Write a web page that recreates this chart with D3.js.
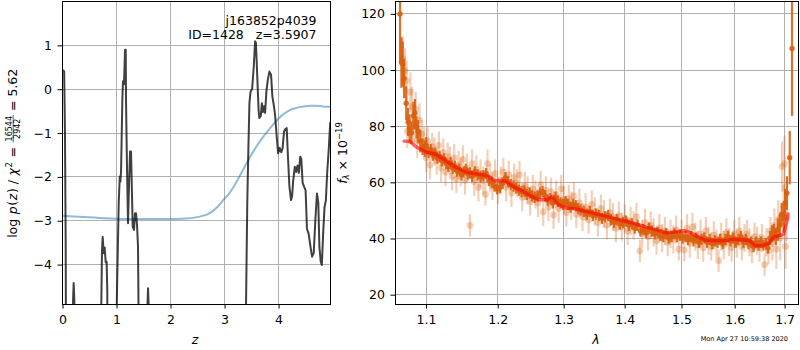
<!DOCTYPE html>
<html><head><meta charset="utf-8">
<script src="https://cdn.jsdelivr.net/npm/d3@7"></script>
<style>
body{margin:0;background:#fff;}
text{font-family:"DejaVu Sans",sans-serif;fill:#000;}
</style></head><body>
<svg id="c" width="800" height="350" xmlns="http://www.w3.org/2000/svg"></svg>
<script>
// ---------- DATA ----------
// left panel: log p(z) (black) and scaled chi2 (blue)
const pzZ = [0.000,0.020,0.040,0.055,0.068,0.080,0.190,0.205,0.216,0.228,0.240,0.700,0.728,0.740,0.753,0.772,0.790,0.800,0.809,0.827,0.838,0.850,0.980,1.020,1.050,1.070,1.080,1.093,1.117,1.130,1.148,1.167,1.180,1.185,1.204,1.222,1.240,1.260,1.278,1.290,1.309,1.333,1.352,1.370,1.389,1.407,1.438,1.560,1.580,1.593,1.606,1.620,3.390,3.407,3.430,3.450,3.470,3.490,3.520,3.550,3.575,3.590,3.615,3.640,3.655,3.680,3.700,3.720,3.740,3.760,3.785,3.810,3.840,3.870,3.895,3.920,3.945,3.970,4.000,4.030,4.060,4.085,4.110,4.135,4.160,4.180,4.210,4.240,4.260,4.280,4.310,4.335,4.360,4.385,4.410,4.430,4.455,4.480,4.510,4.535,4.565,4.600,4.630,4.660,4.690,4.720,4.745,4.765,4.790,4.810,4.835,4.860,4.885,4.910,4.940,4.965,4.980];
const pzLogp = [0.41,0.42,0.40,-1.00,-3.50,-8.00,-8.00,-4.80,-4.43,-4.80,-8.00,-8.00,-4.90,-3.70,-3.38,-3.75,-3.62,-3.80,-3.96,-3.95,-4.60,-8.00,-8.00,-4.50,-2.60,-2.00,-2.12,-1.90,-0.26,0.17,0.10,0.89,0.89,-0.26,-1.85,-3.07,-2.24,-1.43,-1.43,-2.10,-3.15,-3.22,-2.84,-2.84,-3.10,-3.60,-8.00,-8.00,-5.00,-4.55,-5.00,-8.00,-8.00,-4.90,-2.60,-1.40,-0.33,-0.07,0.00,0.50,1.08,1.05,0.28,-0.50,-0.67,-0.62,-0.33,-0.53,-0.40,-0.55,-0.05,0.20,0.39,0.32,-0.18,-0.37,-0.60,-1.01,-1.47,-1.35,-1.45,-1.35,-0.98,-0.92,-0.90,-1.47,-2.23,-2.54,-2.45,-2.10,-1.78,-1.90,-1.75,-1.92,-1.55,-1.60,-2.15,-2.23,-2.32,-3.20,-3.30,-3.60,-3.83,-3.75,-3.00,-2.39,-2.60,-3.60,-3.95,-4.02,-3.30,-2.70,-2.55,-1.90,-1.35,-0.78,-0.75];
const chiZ = [0.0,0.3,0.6,0.9,1.2,1.5,1.8,2.1,2.3,2.45,2.6,2.7,2.8,2.9,3.0,3.1,3.2,3.3,3.4,3.5,3.6,3.7,3.8,3.9,4.0,4.1,4.2,4.3,4.4,4.5,4.6,4.7,4.8,4.9,4.98];
const chiVal = [-2.90,-2.92,-2.94,-2.96,-2.97,-2.97,-2.97,-2.97,-2.96,-2.94,-2.90,-2.86,-2.78,-2.67,-2.52,-2.38,-2.19,-1.97,-1.74,-1.52,-1.32,-1.14,-0.98,-0.83,-0.69,-0.58,-0.50,-0.45,-0.42,-0.40,-0.39,-0.39,-0.40,-0.41,-0.41];
const leftXTicks = [0,1,2,3,4];
const leftYTicks = [-4,-3,-2,-1,0,1];
const titleLines = ["j163852p4039","ID=1428\u00a0\u00a0\u00a0z=3.5907"];

// right panel: spectrum points [wavelength (micron), flux, error]
const strongPts = [
[1.0665,119.8,17],[1.0683,102.5,9],[1.0700,102.0,8],[1.0717,96.8,7],[1.0745,88.0,6],[1.0770,81.3,5],[1.0790,79.0,5],[1.0815,77.5,4],[1.0840,83.5,5],[1.0860,84.5,5],[1.0880,79.5,4],[1.0900,78.0,4],[1.0930,74.5,4],[1.0960,72.5,3],[1.0990,71.8,3],[1.1010,73.0,3],[1.1040,70.5,2],[1.1070,71.5,2],[1.1100,69.5,2],[1.1130,70.2,2],[1.1160,68.5,2],[1.1190,69.0,2],[1.1220,67.5,2],[1.1250,68.2,2],[1.1280,66.5,2],[1.1310,65.5,2],[1.1340,66.8,2],[1.1370,64.8,2],[1.1400,65.5,2],[1.1430,63.8,2],[1.1460,64.5,2],[1.1490,62.5,2],[1.1520,63.5,2],[1.1550,64.5,2],[1.1580,62.8,2],[1.1610,63.2,2],[1.1640,62.0,2],[1.1680,63.5,2],[1.1720,62.5,2],[1.1760,61.8,2],[1.1800,62.2,2],[1.1840,63.0,2],[1.1880,60.5,2],[1.1920,60.0,2],[1.1960,58.5,2],[1.2000,57.5,2],[1.2040,58.0,2],[1.2080,59.5,2],[1.2120,61.5,2],[1.2160,60.0,2],[1.2200,59.0,2],[1.2240,58.5,2],[1.2280,57.8,2],[1.2320,57.0,2],[1.2360,56.5,2],[1.2400,56.8,2],[1.2440,55.5,2],[1.2480,56.0,2],[1.2520,55.0,2],[1.2560,54.5,2],[1.2600,55.0,2],[1.2640,56.0,2],[1.2680,56.5,2],[1.2720,55.0,2],[1.2760,53.5,2],[1.2800,54.0,2],[1.2840,52.5,2],[1.2880,54.5,2],[1.2920,53.0,2],[1.2960,52.5,2],[1.3000,52.0,2],[1.3040,53.0,2],[1.3080,52.0,2],[1.3120,51.0,2],[1.3160,52.0,2],[1.3200,51.5,2],[1.3240,50.5,2],[1.3280,50.0,2],[1.3330,49.5,2],[1.3380,48.5,2],[1.3430,49.5,2],[1.3480,48.0,2],[1.3530,48.5,2],[1.3580,48.0,2],[1.3630,47.0,2],[1.3680,47.5,2],[1.3730,48.0,2],[1.3780,46.5,2],[1.3830,45.5,2],[1.3880,46.5,2],[1.3930,45.0,2],[1.3980,45.5,2],[1.4030,46.0,2],[1.4080,44.5,2],[1.4130,45.0,2],[1.4180,43.5,2],[1.4230,44.5,2],[1.4280,42.5,2],[1.4330,43.0,2],[1.4380,42.0,2],[1.4430,43.5,2],[1.4480,42.5,2],[1.4530,41.5,2],[1.4580,42.0,2],[1.4630,41.0,2],[1.4680,40.5,2],[1.4730,41.5,2],[1.4780,40.0,2],[1.4830,40.5,2],[1.4880,41.5,2],[1.4930,40.5,2],[1.4980,41.0,2],[1.5030,40.0,2],[1.5080,40.5,2],[1.5130,39.5,2],[1.5180,40.5,2],[1.5230,39.0,2],[1.5280,40.0,2],[1.5330,38.5,2],[1.5380,39.5,2],[1.5430,40.0,2],[1.5480,38.5,2],[1.5530,39.5,2],[1.5580,38.0,2],[1.5630,39.0,2],[1.5680,38.5,2],[1.5730,39.5,2],[1.5780,38.0,2],[1.5830,39.5,2],[1.5880,40.5,2],[1.5930,39.0,2],[1.5980,40.0,2],[1.6030,38.5,2],[1.6080,39.5,2],[1.6130,40.5,2],[1.6180,38.5,2],[1.6230,39.5,2],[1.6280,38.0,2],[1.6330,38.5,2],[1.6380,37.0,2],[1.6430,38.5,2],[1.6480,37.5,2],[1.6530,38.5,2],[1.6580,37.5,2],[1.6630,38.0,2],[1.6670,36.5,2],[1.6710,40.0,2.5],[1.6750,41.5,3],[1.6790,42.0,3],[1.6830,40.5,3],[1.6870,43.0,4],[1.6910,44.5,4],[1.6950,48.5,4],[1.6990,47.0,5],[1.7020,52.5,5],[1.7059,56.0,6],[1.7116,68.6,9.5],[1.7164,107.5,24]];
const faintPts = [
[1.0700,103.8,8],[1.0730,99.6,8],[1.0750,96.0,7],[1.0760,78.0,6],[1.0800,92.0,7],[1.0820,86.8,7],[1.0850,80.0,6],[1.0870,86.0,6],[1.0890,74.6,6],[1.0920,82.0,6],[1.0950,77.0,5],[1.0980,74.5,5],[1.1010,68.5,5],[1.1030,74.5,5],[1.1060,66.0,5],[1.1090,72.5,5],[1.1120,70.8,5],[1.1150,67.5,5],[1.1180,73.0,5],[1.1210,65.0,5],[1.1240,70.5,5],[1.1270,63.5,5],[1.1300,69.0,5],[1.1330,67.5,5],[1.1360,62.0,5],[1.1390,68.5,5],[1.1420,61.0,5],[1.1450,66.0,5],[1.1480,63.5,5],[1.1510,68.0,5],[1.1540,60.5,5],[1.1570,65.0,5],[1.1610,44.5,4],[1.1640,66.5,5],[1.1670,60.0,5],[1.1700,64.5,5],[1.1730,58.0,5],[1.1760,63.0,5],[1.1800,60.5,5],[1.1830,55.5,4],[1.1860,66.5,5],[1.1900,61.5,5],[1.1930,58.5,5],[1.1970,63.0,5],[1.2010,57.0,5],[1.2050,60.5,5],[1.2090,63.5,5],[1.2130,58.0,5],[1.2170,62.5,5],[1.2210,56.0,5],[1.2250,61.5,5],[1.2290,59.5,5],[1.2330,62.5,5],[1.2370,54.5,5],[1.2410,58.5,5],[1.2450,57.0,5],[1.2490,53.0,5],[1.2530,57.5,5],[1.2570,55.5,5],[1.2610,52.5,5],[1.2650,59.0,5],[1.2690,49.3,5],[1.2730,57.0,5],[1.2770,51.0,5],[1.2810,56.5,5],[1.2850,48.2,5],[1.2890,55.5,5],[1.2930,50.5,5],[1.2970,57.5,5],[1.3010,53.5,5],[1.3050,49.0,5],[1.3090,54.0,5],[1.3130,51.5,5],[1.3170,55.0,5],[1.3210,48.5,5],[1.3260,52.5,5],[1.3310,47.5,5],[1.3360,51.0,5],[1.3410,46.5,5],[1.3460,52.0,5],[1.3510,49.5,5],[1.3560,45.5,5],[1.3610,50.5,5],[1.3660,48.5,5],[1.3710,44.5,5],[1.3760,49.0,5],[1.3810,47.5,5],[1.3860,43.5,5],[1.3910,48.0,5],[1.3960,44.0,5],[1.4010,47.0,5],[1.4060,42.5,5],[1.4110,46.0,5],[1.4160,44.5,5],[1.4210,47.5,5],[1.4270,35.4,4],[1.4310,41.5,5],[1.4360,45.5,5],[1.4410,40.5,5],[1.4460,44.5,5],[1.4510,42.0,5],[1.4560,39.0,5],[1.4610,43.5,5],[1.4660,40.0,5],[1.4710,42.5,5],[1.4760,38.5,5],[1.4810,41.5,5],[1.4860,39.5,5],[1.4910,43.0,5],[1.4960,36.0,4],[1.5010,41.5,5],[1.5060,35.7,4],[1.5110,43.5,5],[1.5160,38.0,5],[1.5210,44.0,5],[1.5260,40.5,5],[1.5310,37.5,5],[1.5360,41.5,5],[1.5410,36.5,5],[1.5460,42.5,5],[1.5510,39.0,5],[1.5560,37.0,5],[1.5610,41.0,5],[1.5660,38.0,5],[1.5700,31.9,4],[1.5750,40.5,5],[1.5800,37.5,5],[1.5850,42.0,5],[1.5900,38.5,5],[1.5950,36.5,5],[1.6000,41.5,5],[1.6050,38.0,5],[1.6100,42.5,5],[1.6150,37.0,5],[1.6200,40.0,5],[1.6250,41.5,5],[1.6300,38.5,5],[1.6350,36.0,5],[1.6400,40.5,5],[1.6450,39.0,5],[1.6500,36.5,5],[1.6550,40.0,5],[1.6600,30.5,4],[1.6640,38.5,5],[1.6680,35.5,5],[1.6720,42.5,5],[1.6760,38.0,6],[1.6800,44.5,6],[1.6840,36.0,7],[1.6880,46.5,7],[1.6920,40.0,8],[1.6960,65.5,9],[1.6990,51.0,8],[1.7010,66.5,10],[1.7030,37.0,8],[1.7050,47.0,8]];
const modelWave = [1.0717,1.079,1.088,1.1004,1.1138,1.127,1.141,1.155,1.169,1.183,1.197,1.212,1.221,1.236,1.249,1.262,1.275,1.283,1.291,1.304,1.320,1.336,1.353,1.369,1.386,1.404,1.421,1.439,1.457,1.475,1.494,1.506,1.519,1.531,1.544,1.563,1.582,1.598,1.615,1.631,1.641,1.655,1.668,1.679,1.689,1.699,1.706,1.708];
const modelFlux = [74.5,74.4,72.4,70.6,69.8,67.6,65.2,63.5,62.9,62.3,60.5,60.3,58.7,56.9,55.1,53.6,53.6,54.8,52.1,50.7,50.4,49.5,48.6,47.8,46.8,45.9,45.0,43.8,42.9,41.8,42.3,42.6,41.8,40.5,39.3,39.0,39.0,39.6,39.4,39.0,37.2,37.2,38.0,40.4,40.8,41.4,46.2,48.6];
const rightXTicks = [1.1,1.2,1.3,1.4,1.5,1.6,1.7];
const rightYTicks = [20,40,60,80,100,120];
const timestamp = "Mon Apr 27 10:59:38 2020";

// ---------- DRAW ----------
const svg = d3.select("#c");
svg.append("rect").attr("width",800).attr("height",350).attr("fill","#fff");
const FS = 12.5, GRID = "#b0b0b0";

function panel(x0,x1,y0,y1,xs,ys,xt,yt,id){
  const g = svg.append("g");
  g.selectAll(null).data(xt).join("line")
    .attr("x1",d=>Math.round(xs(d))+0.5).attr("x2",d=>Math.round(xs(d))+0.5)
    .attr("y1",y0).attr("y2",y1).attr("stroke",GRID).attr("stroke-width",1);
  g.selectAll(null).data(yt).join("line")
    .attr("y1",d=>Math.round(ys(d))+0.5).attr("y2",d=>Math.round(ys(d))+0.5)
    .attr("x1",x0).attr("x2",x1).attr("stroke",GRID).attr("stroke-width",1);
  svg.append("clipPath").attr("id",id).append("rect")
    .attr("x",x0).attr("y",y0).attr("width",x1-x0).attr("height",y1-y0);
  return g;
}
function axes(x0,x1,y0,y1,xs,ys,xt,yt,xfmt,yfmt){
  const ax = d3.axisBottom(xs).tickValues(xt).tickFormat(xfmt).tickSize(4.5).tickPadding(6.5);
  const ay = d3.axisLeft(ys).tickValues(yt).tickFormat(yfmt).tickSize(4.5).tickPadding(5.5);
  const gx = svg.append("g").attr("transform",`translate(0.5,${y1})`).call(ax);
  const gy = svg.append("g").attr("transform",`translate(${x0},0.5)`).call(ay);
  [gx,gy].forEach(a=>{
    a.select(".domain").remove();
    a.selectAll("text").attr("font-size",FS).attr("font-family","DejaVu Sans").attr("fill","#000");
    a.selectAll("line").attr("stroke","#000").attr("stroke-width",1);
  });
  svg.append("rect").attr("x",x0+0.5).attr("y",y0+0.5).attr("width",x1-x0-1).attr("height",y1-y0)
    .attr("fill","none").attr("stroke","#000").attr("stroke-width",1);
}

// LEFT PANEL
const L = {x0:62,x1:331,y0:1,y1:304};
const xL = d3.scaleLinear().domain([0,4.98]).range([L.x0,L.x1]);
const yL = d3.scaleLinear().domain([-4.91,2.0]).range([L.y1,L.y0]);
const fmtInt = d3.format("d");
panel(L.x0,L.x1,L.y0,L.y1,xL,yL,leftXTicks,leftYTicks,"clipL");
const gl = svg.append("g").attr("clip-path","url(#clipL)");
gl.append("path").datum(chiZ.map((z,i)=>[z,chiVal[i]]))
  .attr("d",d3.line().x(d=>xL(d[0])).y(d=>yL(d[1])).curve(d3.curveMonotoneX))
  .attr("fill","none").attr("stroke","#1f77b4").attr("stroke-opacity",0.5).attr("stroke-width",2);
gl.append("path").datum(pzZ.map((z,i)=>[z,pzLogp[i]]))
  .attr("d",d3.line().x(d=>xL(d[0])).y(d=>yL(d[1])))
  .attr("fill","none").attr("stroke","#000").attr("stroke-opacity",0.75).attr("stroke-width",2)
  .attr("stroke-linejoin","round");
axes(L.x0,L.x1,L.y0,L.y1,xL,yL,leftXTicks,leftYTicks,fmtInt,fmtInt);
svg.selectAll(null).data(titleLines).join("text")
  .attr("x",316.5).attr("y",(d,i)=>24.5+i*14).attr("text-anchor","end")
  .attr("font-size",FS).text(d=>d);
svg.append("text").attr("x",195).attr("y",344).attr("text-anchor","middle")
  .attr("font-size",FS).attr("font-style","italic").text("z");

// left y label with math
(function(){
  const g = svg.append("g").attr("transform","translate(16.5,153) rotate(-90)");
  const pieces = [
    {t:"log\u00a0",it:false},{t:"p",it:true},{t:"(",it:false},{t:"z",it:true},{t:")\u00a0/\u00a0",it:false},
    {t:"\u03c7",it:true},{t:"2",it:false,sup:true},{t:"\u00a0=\u00a0",it:false},{frac:["16544","2942"]},{t:"\u00a0=\u00a05.62",it:false}
  ];
  let x = 0; const items=[];
  pieces.forEach(p=>{
    if(p.frac){
      const fs=8;
      const n = g.append("text").attr("font-size",fs).attr("text-anchor","middle").text(p.frac[0]);
      const d = g.append("text").attr("font-size",fs).attr("text-anchor","middle").text(p.frac[1]);
      const w = Math.max(n.node().getComputedTextLength(), d.node().getComputedTextLength())+2;
      items.push({x, w, n, d, frac:true});
      x += w;
    } else {
      const t = g.append("text").attr("font-size",p.sup?8.5:FS).attr("font-style",p.it?"italic":"normal")
        .text(p.t);
      const w = t.node().getComputedTextLength();
      items.push({x,w,t,sup:p.sup});
      x += w + (p.sup?0.5:0.6);
    }
  });
  const off = -x/2;
  items.forEach(it=>{
    if(it.frac){
      const cx = off+it.x+it.w/2;
      it.n.attr("x",cx).attr("y",-4.5);
      it.d.attr("x",cx).attr("y",3.5);
      g.append("line").attr("x1",off+it.x).attr("x2",off+it.x+it.w).attr("y1",-3.3).attr("y2",-3.3)
        .attr("stroke","#000").attr("stroke-width",0.6);
    } else {
      it.t.attr("x",off+it.x).attr("y",it.sup?-5:0);
    }
  });
})();

// RIGHT PANEL
const R = {x0:395,x1:799,y0:1,y1:304};
const xR = d3.scaleLog().domain([1.06,1.731]).range([R.x0,R.x1]);
const yR = d3.scaleLinear().domain([16.5,124.4]).range([R.y1,R.y0]);
panel(R.x0,R.x1,R.y0,R.y1,xR,yR,rightXTicks,rightYTicks,"clipR");
const gr = svg.append("g").attr("clip-path","url(#clipR)");
const ORANGE = "#d95f0e";
function drawPts(data, op, r, ew){
  const g = gr.append("g");
  g.selectAll(null).data(data).join("line")
    .attr("x1",d=>xR(d[0])).attr("x2",d=>xR(d[0]))
    .attr("y1",d=>yR(d[1]-d[2])).attr("y2",d=>yR(d[1]+d[2]))
    .attr("stroke",ORANGE).attr("stroke-opacity",op).attr("stroke-width",ew);
  g.selectAll(null).data(data).join("circle")
    .attr("cx",d=>xR(d[0])).attr("cy",d=>yR(d[1])).attr("r",r)
    .attr("fill",ORANGE).attr("fill-opacity",op);
}
drawPts(faintPts,0.3,3.4,2.2);
drawPts(strongPts,0.9,2.7,2.2);
gr.append("path").datum(modelWave.map((w,i)=>[w,modelFlux[i]]))
  .attr("d",d3.line().x(d=>xR(d[0])).y(d=>yR(d[1])))
  .attr("fill","none").attr("stroke","#ff0000").attr("stroke-opacity",0.6).attr("stroke-width",3.5)
  .attr("stroke-linejoin","round").attr("stroke-linecap","round");
axes(R.x0,R.x1,R.y0,R.y1,xR,yR,rightXTicks,rightYTicks,d3.format(".1f"),fmtInt);
svg.append("text").attr("x",596).attr("y",344).attr("text-anchor","middle")
  .attr("font-size",FS).attr("font-style","italic").text("\u03bb");
// right y label
(function(){
  const t = svg.append("text").attr("transform","translate(346.5,153) rotate(-90)")
    .attr("text-anchor","middle").attr("font-size",FS);
  t.append("tspan").attr("font-style","italic").text("f");
  t.append("tspan").attr("font-size",8.5).attr("font-style","italic").attr("dy",2.5).text("\u03bb");
  t.append("tspan").attr("dy",-2.5).text("\u00a0\u00d7\u00a010");
  t.append("tspan").attr("font-size",8.5).attr("dy",-5).text("\u221219");
})();
svg.append("text").attr("x",788).attr("y",341).attr("text-anchor","end")
  .attr("font-size",6.5).attr("fill","#222").text(timestamp);
</script>
</body></html>
